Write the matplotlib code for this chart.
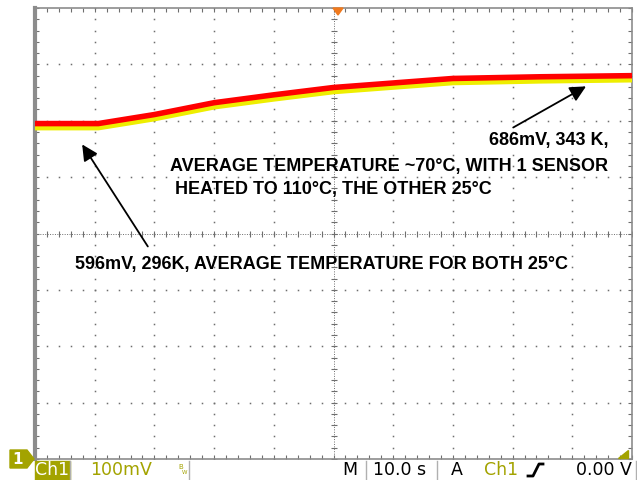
import numpy as np
import matplotlib
matplotlib.use("Agg")
import matplotlib.pyplot as plt
from matplotlib.patches import Polygon, Rectangle
from matplotlib.lines import Line2D
from matplotlib.transforms import ScaledTranslation

# Ch1 trace (10 s/div, 100 mV/div, centre line = 400 mV)
time_s = [0, 10.6, 20, 30, 40, 50, 70, 84.6, 100]
ch1_mv = [595, 595, 611, 632, 646, 659, 675, 678, 680]

note_hot = "686mV, 343 K,"
note_avg = ["AVERAGE TEMPERATURE ~70\u00b0C, WITH 1 SENSOR", " HEATED TO 110\u00b0C, THE OTHER 25\u00b0C"]
note_cold = "596mV, 296K, AVERAGE TEMPERATURE FOR BOTH 25\u00b0C"

W, H = 637, 480
OLIVE = "#a3a300"
GRID = "#6e6e6e"
FRAME = "#8c8c8c"

fig = plt.figure(figsize=(W / 100, H / 100), dpi=100)
fig.patch.set_facecolor("white")
ax = fig.add_axes([35 / W, 21 / H, 597 / W, 451 / H])
ax.set_xlim(0, 100)
ax.set_ylim(0, 800)

# graticule: dotted division lines
yy = np.arange(0, 801, 20)
xx = np.arange(0, 101, 2)
for xv in range(10, 100, 10):
    if xv != 50:
        ax.plot([xv] * len(yy), yy, ls="none", marker="s", ms=1.1, mew=0, color=GRID, zorder=1)
for yv in range(100, 800, 100):
    if yv != 400:
        ax.plot(xx, [yv] * len(xx), ls="none", marker="s", ms=1.1, mew=0, color=GRID, zorder=1)

# centre cross with ticks
ax.axhline(400, ls=(0, (1, 1.5)), lw=0.7, color=GRID, zorder=1)
ax.axvline(50, ls=(0, (1, 1.5)), lw=0.7, color=GRID, zorder=1)
ax.plot(xx, [400] * len(xx), ls="none", marker="|", ms=5, mew=0.8, color=GRID, zorder=1)
ax.plot([50] * len(yy), yy, ls="none", marker="_", ms=5, mew=0.8, color=GRID, zorder=1)

# border ticks
ax.set_xticks(xx)
ax.set_yticks(yy)
ax.tick_params(direction="in", length=3, width=0.8, color=GRID, top=True, right=True,
               labelbottom=False, labelleft=False)
for side in ["top", "right", "bottom"]:
    ax.spines[side].set_color(FRAME)
    ax.spines[side].set_linewidth(1.2)
ax.spines["left"].set_color(FRAME)
ax.spines["left"].set_linewidth(3)

# raw (yellow) trace slightly under the red overlay
shift = ScaledTranslation(0, -3.5 / 100, fig.dpi_scale_trans)
ax.plot(time_s, ch1_mv, color="#eeee00", lw=4.8, solid_capstyle="butt",
        solid_joinstyle="round", transform=ax.transData + shift, zorder=3)
ax.plot(time_s, ch1_mv, color="#ff0000", lw=4.0, solid_capstyle="butt",
        solid_joinstyle="round", zorder=4)

# annotations
txt = dict(family="Liberation Sans", weight="bold", fontsize=13, color="black")
arrow = dict(arrowstyle="-|>", mutation_scale=24, lw=1.3, color="black", shrinkA=0, shrinkB=0)
ax.annotate("", xy=(7.9, 558), xytext=(18.9, 377), arrowprops=arrow, zorder=5)
ax.annotate("", xy=(92.3, 661), xytext=(80.1, 588), arrowprops=arrow, zorder=5)
ax.text(96, 565, note_hot, ha="right", va="center", **txt)
ax.text(22.6, 519, note_avg[0], ha="left", va="center", **txt)
ax.text(22.6, 478, note_avg[1], ha="left", va="center", **txt)
ax.text(6.7, 345, note_cold, ha="left", va="center", **txt)

# trigger position marker (top) and trigger level marker (right)
ax.add_patch(Polygon([(333 / W, 472 / H), (343 / W, 472 / H), (338 / W, 465 / H)],
                     closed=True, transform=fig.transFigure, color="#f07a1e",
                     clip_on=False, zorder=6))
ax.add_patch(Polygon([(618 / W, 22 / H), (628 / W, 22 / H), (628 / W, 30 / H)],
                     closed=True, transform=fig.transFigure, color=OLIVE,
                     clip_on=False, zorder=6))

# channel 1 ground marker
fig.patches.append(Polygon([(10 / W, 12 / H), (27 / W, 12 / H), (34 / W, 21 / H),
                            (27 / W, 30 / H), (10 / W, 30 / H)],
                           closed=True, transform=fig.transFigure, color=OLIVE))
fig.text(18 / W, 21 / H, "1", ha="center", va="center", color="white",
         fontsize=11, weight="bold", family="DejaVu Sans")

# status bar
fig.patches.append(Rectangle((35 / W, 0), 35 / W, 19 / H, transform=fig.transFigure, color=OLIVE))
for xs in [70, 189, 366, 437, 636]:
    fig.lines.append(Line2D([xs / W, xs / W], [0, 19 / H], transform=fig.transFigure,
                            color="#b0b0b0", lw=1))
stat = dict(family="DejaVu Sans", fontsize=12.5, va="center")
ys = 10 / H
fig.text(52 / W, ys, "Ch1", ha="center", color="white", **stat)
fig.text(90 / W, ys, "100mV", ha="left", color=OLIVE, **stat)
fig.text(178 / W, 13 / H, "B", ha="left", va="center", color=OLIVE, fontsize=5, family="DejaVu Sans")
fig.text(182 / W, 8 / H, "W", ha="left", va="center", color=OLIVE, fontsize=4, family="DejaVu Sans")
fig.text(350 / W, ys, "M", ha="center", color="black", **stat)
fig.text(373 / W, ys, "10.0 s", ha="left", color="black", **stat)
fig.text(457 / W, ys, "A", ha="center", color="black", **stat)
fig.text(484 / W, ys, "Ch1", ha="left", color=OLIVE, **stat)
fig.lines.append(Line2D([528 / W, 533 / W, 539 / W, 543 / W], [4 / H, 4 / H, 16 / H, 16 / H],
                        transform=fig.transFigure, color="black", lw=2))
fig.text(632 / W, ys, "0.00 V", ha="right", color="black", **stat)

fig.savefig("out.png", dpi=100)
